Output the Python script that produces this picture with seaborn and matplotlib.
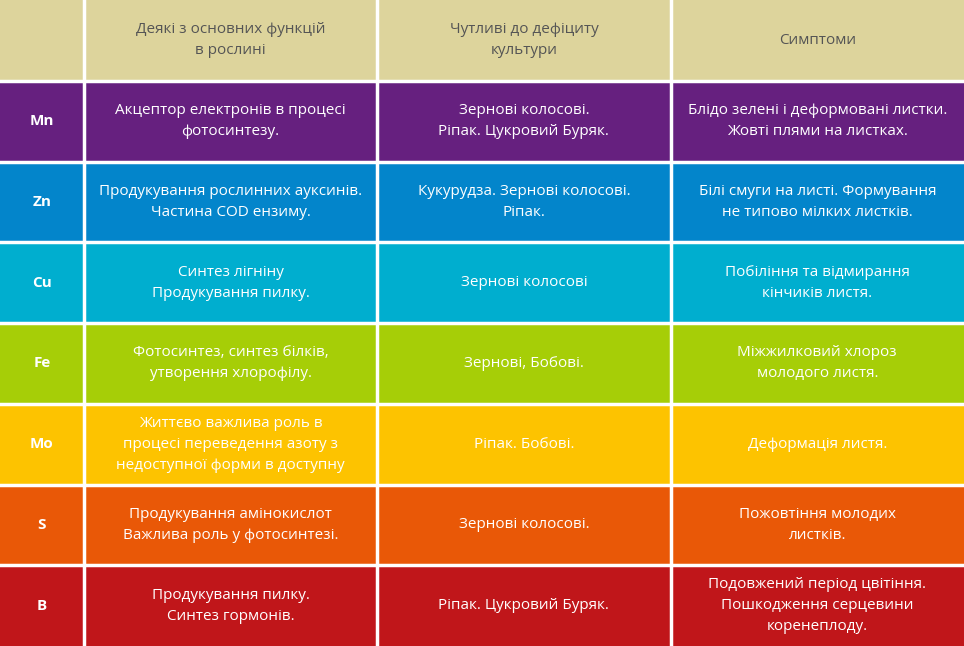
import numpy as np
import matplotlib
matplotlib.use('Agg')
import matplotlib.pyplot as plt
from matplotlib.colors import ListedColormap
import seaborn as sns

headers = ['', 'Деякі з основних функцій\nв рослині', 'Чутливі до дефіциту\nкультури', 'Симптоми']
elements = ['Mn', 'Zn', 'Cu', 'Fe', 'Mo', 'S', 'B']
functions = ['Акцептор електронів в процесі\nфотосинтезу.',
             'Продукування рослинних ауксинів.\nЧастина COD ензиму.',
             'Синтез лігніну\nПродукування пилку.',
             'Фотосинтез, синтез білків,\nутворення хлорофілу.',
             'Життєво важлива роль в\nпроцесі переведення азоту з\nнедоступної форми в доступну',
             'Продукування амінокислот\nВажлива роль у фотосинтезі.',
             'Продукування пилку.\nСинтез гормонів.']
crops = ['Зернові колосові.\nРіпак. Цукровий Буряк.',
         'Кукурудза. Зернові колосові.\nРіпак.',
         'Зернові колосові',
         'Зернові, Бобові.',
         'Ріпак. Бобові.',
         'Зернові колосові.',
         'Ріпак. Цукровий Буряк.']
symptoms = ['Блідо зелені і деформовані листки.\nЖовті плями на листках.',
            'Білі смуги на листі. Формування\nне типово мілких листків.',
            'Побіління та відмирання\nкінчиків листя.',
            'Міжжилковий хлороз\nмолодого листя.',
            'Деформація листя.',
            'Пожовтіння молодих\nлистків.',
            'Подовжений період цвітіння.\nПошкодження серцевини\nкоренеплоду.']
row_colors = ['#DDD49C', '#66207F', '#0385CB', '#00AECF', '#A6CE07', '#FDC300', '#E95807', '#C0161A']

# column widths in units: 2, 7, 7, 7
col_units = [2, 7, 7, 7]
ncols = sum(col_units)
mat = np.repeat(np.arange(len(row_colors))[:, None], ncols, axis=1)

fig = plt.figure(figsize=(9.64, 6.46), dpi=100)
ax = fig.add_axes([0, 0, 1, 1])
sns.heatmap(mat, cmap=ListedColormap(row_colors), cbar=False, ax=ax,
            xticklabels=False, yticklabels=False, vmin=-0.5, vmax=len(row_colors) - 0.5)

edges = np.cumsum([0] + col_units)
for x in edges[1:-1]:
    ax.axvline(x, color='white', lw=2.5)
for y in range(1, len(row_colors)):
    ax.axhline(y, color='white', lw=2.5)

font = 'Open Sans'
ls = 1.55
centers = (edges[:-1] + edges[1:]) / 2
for j, h in enumerate(headers):
    ax.text(centers[j], 0.5, h, ha='center', va='center', fontsize=11,
            color='#555555', family=font, linespacing=ls)
for i in range(len(elements)):
    y = i + 1.5
    ax.text(centers[0], y, elements[i], ha='center', va='center', fontsize=11,
            color='white', weight='bold', family=font)
    for j, t in enumerate([functions[i], crops[i], symptoms[i]]):
        ax.text(centers[j + 1], y, t, ha='center', va='center', fontsize=11,
                color='white', family=font, linespacing=ls)

ax.set_axis_off()
fig.savefig('out.png', dpi=100)
